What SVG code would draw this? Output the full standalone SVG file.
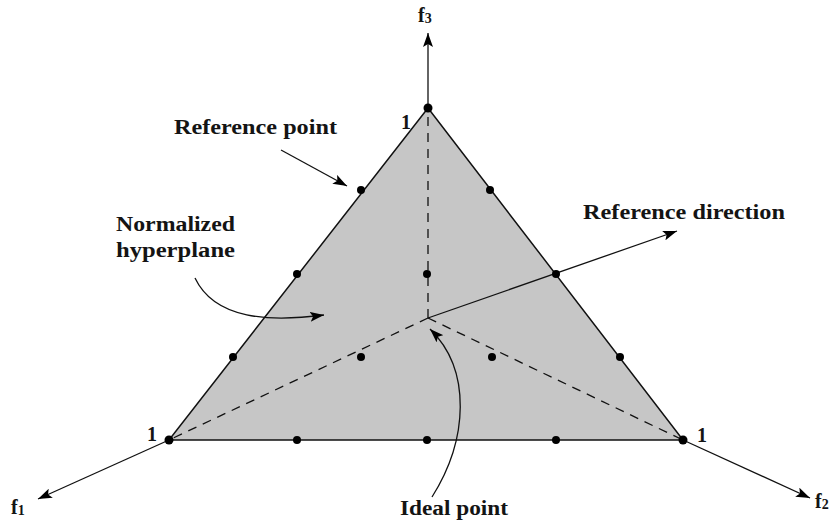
<svg xmlns="http://www.w3.org/2000/svg" width="837" height="524" viewBox="0 0 837 524">
<style>
.lbl{font-family:"Liberation Serif","DejaVu Serif",serif;font-weight:bold;font-size:20px;fill:#141414}
.ax{stroke:#111;stroke-width:1.3;fill:none}
.dash{stroke:#111;stroke-width:1.3;fill:none;stroke-dasharray:9,7}
.dot{fill:#000}
</style>
<defs>
<marker id="ah" markerUnits="userSpaceOnUse" markerWidth="16" markerHeight="10" refX="14" refY="5" orient="auto">
<path d="M0,0 L14,5 L0,10 L3,5 Z" fill="#000"/>
</marker>
</defs>
<rect width="837" height="524" fill="#fff"/>
<g id="plane">
<polygon points="428,108 169,440 683,440" fill="#c6c6c6" stroke="#111" stroke-width="1.5"/>
</g>
<g id="connectors">
<line class="ax" x1="428" y1="108" x2="428" y2="33" marker-end="url(#ah)"/>
<line class="ax" x1="169" y1="440" x2="38" y2="499" marker-end="url(#ah)"/>
<line class="ax" x1="683" y1="440" x2="810" y2="498" marker-end="url(#ah)"/>
<line class="dash" x1="428" y1="318" x2="428" y2="108"/>
<line class="dash" x1="428" y1="318" x2="169" y2="440"/>
<line class="dash" x1="428" y1="318" x2="683" y2="440"/>
<line class="ax" x1="428" y1="318" x2="677" y2="231" marker-end="url(#ah)"/>
<line class="ax" x1="281" y1="150" x2="347" y2="186" marker-end="url(#ah)"/>
<path class="ax" d="M195,278 C215,320 270,322 324,315" marker-end="url(#ah)"/>
<path class="ax" d="M432,497 C468,440 472,370 430,329" marker-end="url(#ah)"/>
</g>
<g id="points">
<circle class="dot" cx="428" cy="108" r="4.5"/>
<circle class="dot" cx="169" cy="440" r="4.5"/>
<circle class="dot" cx="683" cy="440" r="4.5"/>
<circle class="dot" cx="361" cy="190" r="4"/>
<circle class="dot" cx="297" cy="274" r="4"/>
<circle class="dot" cx="233" cy="357" r="4"/>
<circle class="dot" cx="490" cy="190" r="4"/>
<circle class="dot" cx="556" cy="274" r="4"/>
<circle class="dot" cx="620" cy="357" r="4"/>
<circle class="dot" cx="297" cy="440" r="4"/>
<circle class="dot" cx="427" cy="440" r="4"/>
<circle class="dot" cx="556" cy="440" r="4"/>
<circle class="dot" cx="427" cy="274" r="4"/>
<circle class="dot" cx="361" cy="357" r="4"/>
<circle class="dot" cx="492" cy="357" r="4"/>
</g>
<g id="labels">
<text class="lbl" x="418" y="22" font-size="23">f<tspan font-size="14" dy="1">3</tspan></text>
<text class="lbl" x="11" y="514" font-size="23">f<tspan font-size="14" dy="1">1</tspan></text>
<text class="lbl" x="815" y="508" font-size="23">f<tspan font-size="14" dy="1">2</tspan></text>
<text class="lbl" x="401" y="129" font-size="21">1</text>
<text class="lbl" x="147" y="441" font-size="21">1</text>
<text class="lbl" x="697" y="442" font-size="21">1</text>
<text class="lbl" x="174" y="134" textLength="163" lengthAdjust="spacingAndGlyphs">Reference point</text>
<text class="lbl" x="116" y="231" textLength="119" lengthAdjust="spacingAndGlyphs">Normalized</text>
<text class="lbl" x="116" y="257" textLength="119" lengthAdjust="spacingAndGlyphs">hyperplane</text>
<text class="lbl" x="583" y="219" textLength="202" lengthAdjust="spacingAndGlyphs">Reference direction</text>
<text class="lbl" x="400" y="515" textLength="108" lengthAdjust="spacingAndGlyphs">Ideal point</text>
</g>
</svg>
